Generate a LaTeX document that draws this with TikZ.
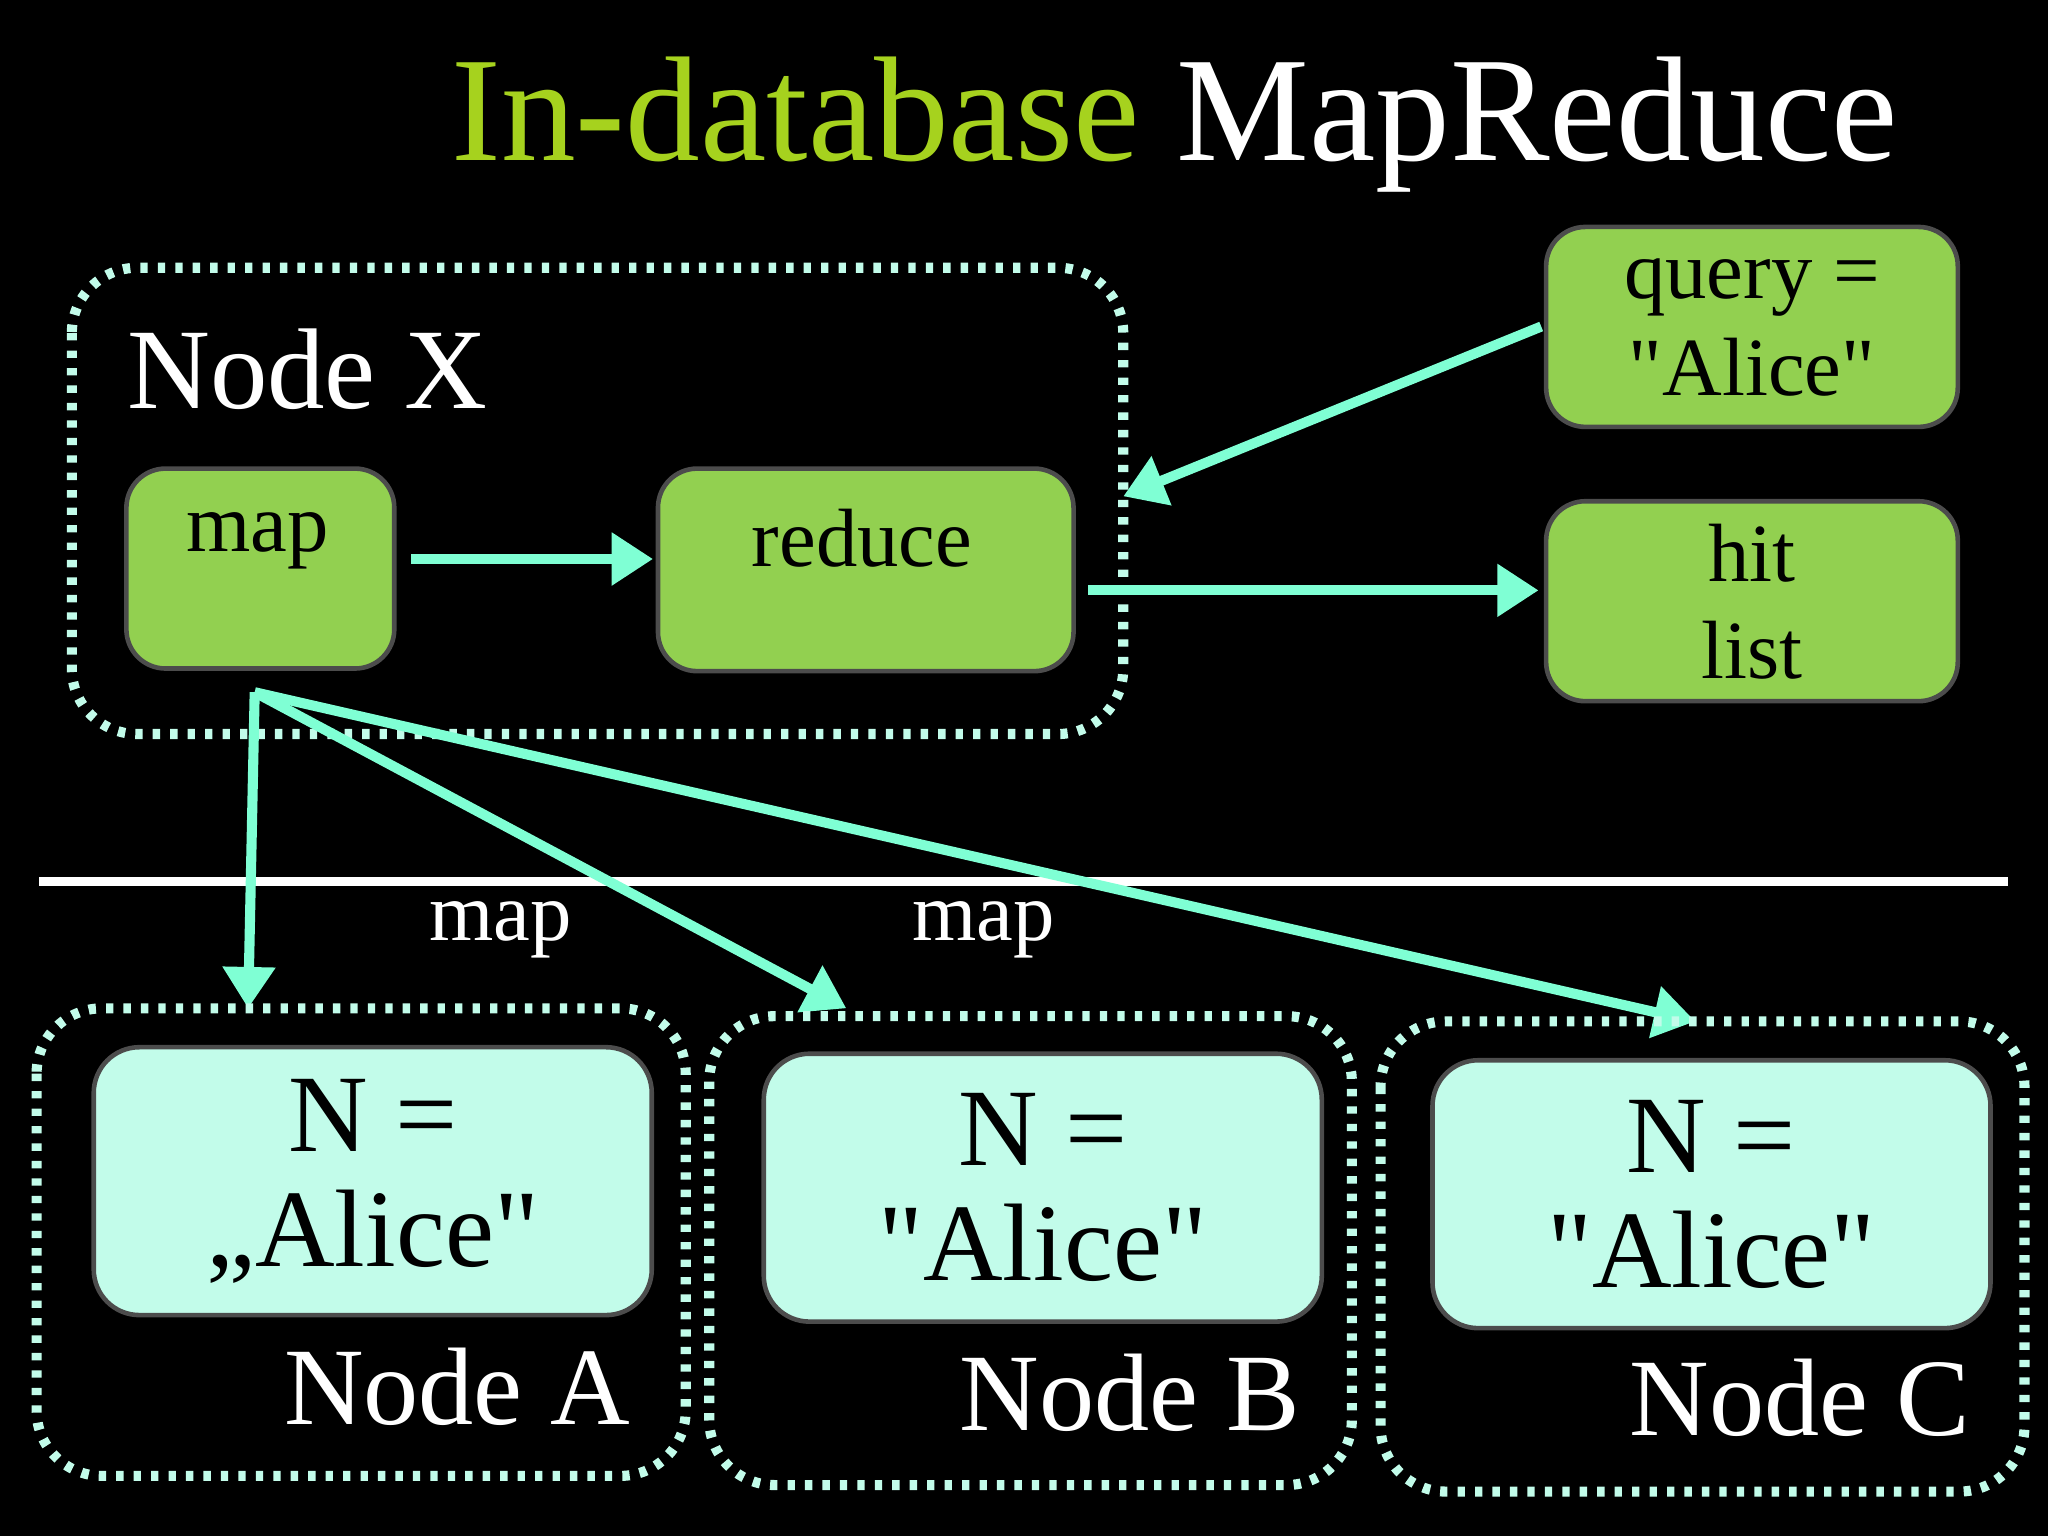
\documentclass[tikz,border=0pt]{standalone}
\usepackage{fontspec}
\defaultfontfeatures{}
\setmainfont{Liberation Serif}
\newfontfamily\rawf{Liberation Serif}[Mapping=,Ligatures={NoCommon}]
\usetikzlibrary{arrows.meta}
\definecolor{lgreen}{HTML}{92D050}
\definecolor{aqua}{HTML}{7FFFD4}
\definecolor{pale}{HTML}{C2FCEA}
\definecolor{titleg}{HTML}{A6D21E}
\newcommand{\qq}{{\rawf\char"22}}
\begin{document}
\begin{tikzpicture}[x=0.01cm,y=-0.01cm,
  dotbox/.style={draw=pale,line width=2.2pt,dash pattern=on 1.6pt off 2.2pt,rounded corners=0.5cm},
  gbox/.style={draw=black!70,line width=1pt,fill=lgreen,rounded corners=0.3cm,align=center,text depth=0pt},
  cbox/.style={draw=black!70,line width=1pt,fill=pale,rounded corners=0.35cm,align=center},
  arr/.style={draw=aqua,line width=2.2pt,-{Triangle[length=9pt,width=11pt]}},
  big/.style={font=\fontsize{25}{25}\selectfont},
  mid/.style={font=\fontsize{18}{21}\selectfont},
  nn/.style={font=\fontsize{24}{25}\selectfont}]
\fill[black] (0,0) rectangle (1568,1176);
\useasboundingbox (0,0) rectangle (1568,1176);
% title
\node[anchor=base west,inner sep=0,font=\fontsize{32.5}{32}\selectfont] (title) at (345,123) {\textcolor{titleg}{In-database} \textcolor{white}{MapReduce}};
% Node X
\draw[dotbox] (55,205) rectangle (860,562);
\node[anchor=west,white,big] (nx) at (85,283) {Node X};
\node[gbox,minimum width=2.05cm,minimum height=1.53cm,anchor=north west,inner sep=0] (map) at (95,357) {};
\node[mid] (maptxt) at (197,414) {map};
\node[gbox,minimum width=3.18cm,minimum height=1.55cm,anchor=north west,inner sep=0] (reduce) at (502,357) {};
\node[mid] (redtxt) at (660,412) {reduce};
\node[gbox,mid,minimum width=3.15cm,minimum height=1.53cm,anchor=north west,inner sep=0] (query) at (1182,172) {query =\\\qq Alice\qq};
\node[gbox,mid,minimum width=3.15cm,minimum height=1.53cm,anchor=north west,inner sep=0] (hit) at (1182,382) {hit\\list};
\coordinate (mapR) at (315,428);
\coordinate (redL) at (500,428);
\draw[arr] (mapR) -- (redL);
\coordinate (qL) at (1180,250);
\coordinate (nxR) at (860,380);
\draw[arr] (qL) -- (nxR);
\coordinate (redR) at (833,452);
\coordinate (hitL) at (1178,452);
\draw[arr] (redR) -- (hitL);
% separator
\draw[white,line width=2pt] (30,675) -- (1537,675);
% arrows to nodes
\coordinate (src) at (195,530);
\coordinate (ta) at (190,772);
\coordinate (tb) at (648,772);
\coordinate (tc) at (1298,782);
\draw[arr] (src) -- (ta);
\draw[arr] (src) -- (tb);
\draw[arr] (src) -- (tc);
\node[white,mid] (m1) at (383,712) {map};
\node[white,mid] (m2) at (753,712) {map};
% Node A
\draw[dotbox] (28,772) rectangle (525,1130);
\node[cbox,nn,minimum width=4.27cm,minimum height=2.05cm,anchor=north west,inner sep=0] (ia) at (70,800) {N =\\„Alice\qq};
\node[white,nn] (la) at (350,1062) {Node A};
% Node B
\draw[dotbox] (543,778) rectangle (1035,1137);
\node[cbox,nn,minimum width=4.27cm,minimum height=2.05cm,anchor=north west,inner sep=0] (ib) at (583,805) {N =\\\qq Alice\qq};
\node[white,nn] (lb) at (865,1066) {Node B};
% Node C
\draw[dotbox] (1057,782) rectangle (1550,1142);
\node[cbox,nn,minimum width=4.27cm,minimum height=2.05cm,anchor=north west,inner sep=0] (ic) at (1095,810) {N =\\\qq Alice\qq};
\node[white,nn] (lc) at (1378,1070) {Node C};
\end{tikzpicture}
\end{document}
